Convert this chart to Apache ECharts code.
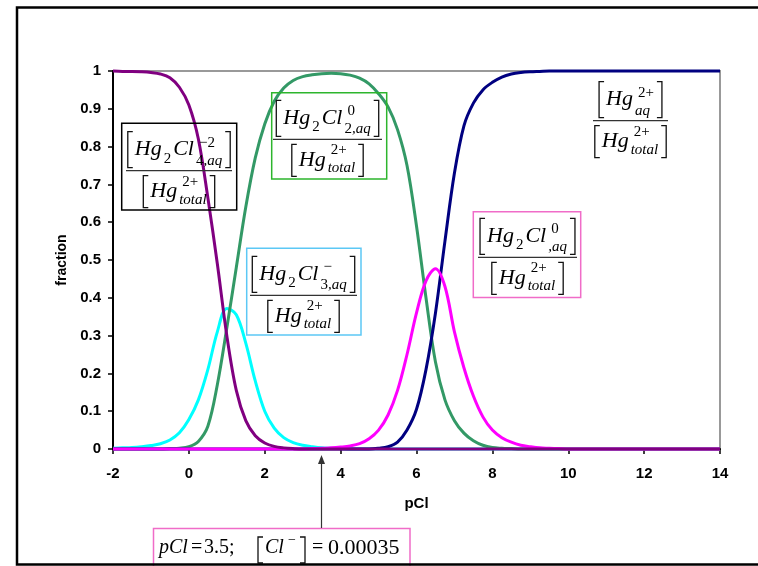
<!DOCTYPE html>
<html>
<head>
<meta charset="utf-8">
<title>Hg2 chloride speciation</title>
<script src="https://cdn.jsdelivr.net/npm/echarts@6/dist/echarts.min.js"></script>
<style>
  html, body { margin: 0; padding: 0; background: #fff; }
  #main { width: 758px; height: 566px; }
</style>
</head>
<body>
<div id="main"></div>
<script>
// pCl grid, 0.25 steps from -2 to 10, then flat to 14
var pCl = [-2, -1.75, -1.5, -1.25, -1, -0.75, -0.5, -0.25, 0, 0.25, 0.5, 0.75, 1, 1.25, 1.5, 1.75,
  2, 2.25, 2.5, 2.75, 3, 3.25, 3.5, 3.75, 4, 4.25, 4.5, 4.75, 5, 5.25, 5.5, 5.75,
  6, 6.25, 6.5, 6.75, 7, 7.25, 7.5, 7.75, 8, 8.25, 8.5, 8.75, 9, 9.25, 9.5, 9.75, 10, 14];

var hg2cl4 = [1, 0.999, 0.999, 0.998, 0.996, 0.992, 0.982, 0.957, 0.91, 0.82, 0.665, 0.49, 0.3, 0.155, 0.075, 0.035,
  0.016, 0.007, 0.003, 0.001, 0, 0, 0, 0, 0, 0, 0, 0, 0, 0, 0, 0,
  0, 0, 0, 0, 0, 0, 0, 0, 0, 0, 0, 0, 0, 0, 0, 0, 0, 0];
var hg2cl3 = [0.002, 0.003, 0.004, 0.006, 0.009, 0.014, 0.024, 0.043, 0.078, 0.13, 0.21, 0.31, 0.372, 0.355, 0.28, 0.18,
  0.1, 0.055, 0.03, 0.017, 0.01, 0.006, 0.003, 0.002, 0.001, 0, 0, 0, 0, 0, 0, 0,
  0, 0, 0, 0, 0, 0, 0, 0, 0, 0, 0, 0, 0, 0, 0, 0, 0, 0];
var hg2cl2 = [0, 0, 0, 0, 0, 0, 0.001, 0.002, 0.006, 0.02, 0.06, 0.17, 0.32, 0.48, 0.64, 0.77,
  0.86, 0.92, 0.955, 0.975, 0.985, 0.99, 0.993, 0.994, 0.993, 0.989, 0.981, 0.966, 0.94, 0.905, 0.845, 0.75,
  0.59, 0.4, 0.23, 0.13, 0.075, 0.042, 0.022, 0.01, 0.004, 0.002, 0.001, 0, 0, 0, 0, 0, 0, 0];
var hg2cl = [0, 0, 0, 0, 0, 0, 0, 0, 0, 0, 0, 0, 0, 0, 0, 0,
  0, 0, 0, 0, 0, 0.001, 0.002, 0.003, 0.005, 0.008, 0.014, 0.027, 0.05, 0.09, 0.155, 0.25,
  0.36, 0.445, 0.477, 0.43, 0.31, 0.215, 0.14, 0.085, 0.05, 0.03, 0.018, 0.01, 0.006, 0.003, 0.002, 0.001, 0, 0];
var hgAq = [0, 0, 0, 0, 0, 0, 0, 0, 0, 0, 0, 0, 0, 0, 0, 0,
  0, 0, 0, 0, 0, 0, 0, 0, 0, 0, 0, 0, 0.002, 0.006, 0.018, 0.05,
  0.105, 0.21, 0.36, 0.55, 0.73, 0.855, 0.915, 0.95, 0.97, 0.984, 0.992, 0.996, 0.998, 0.999, 1, 1, 1, 1];

var yTicks = [0, 0.1, 0.2, 0.3, 0.4, 0.5, 0.6, 0.7, 0.8, 0.9, 1];

;
(function() {
  var SANS = '"Liberation Sans", Arial, sans-serif';
  var SERIF = '"Liberation Serif", "Times New Roman", serif';
  var BASE = 22, SMALL = 15;
  var measure = document.createElement('canvas').getContext('2d');

  function fnt(size, italic) {
    return (italic ? 'italic ' : '') + size + 'px ' + SERIF;
  }
  function textWidth(text, size, italic) {
    measure.font = fnt(size, italic);
    return measure.measureText(text).width;
  }
  function pair(ys) {
    return pCl.map(function(x, i) { return [x, ys[i]]; });
  }

  var graphics = [];

  function txt(text, x, y, size, italic) {
    graphics.push({
      type: 'text', x: x, y: y, z: 20, silent: true,
      style: {
        text: text, font: fnt(size, italic), fill: '#000',
        textAlign: 'left', textVerticalAlign: 'middle', align: 'left', verticalAlign: 'middle'
      }
    });
    return x + textWidth(text, size, italic);
  }
  function pieces(pcs, x, y) {
    pcs.forEach(function(p) { x = txt(p[0], x, y, SMALL, p[1]); });
    return x;
  }
  function piecesWidth(pcs) {
    var w = 0;
    pcs.forEach(function(p) { w += textWidth(p[0], SMALL, p[1]); });
    return w;
  }
  function tokenWidth(tk) {
    if (tk.b) return textWidth(tk.b, BASE, true) + 2;
    if (tk.s) return piecesWidth(tk.s) + 2;
    return Math.max(piecesWidth(tk.sup) + 3, piecesWidth(tk.sub)) + 1;
  }
  function bracket(x, top, bottom, dir) {
    var x2 = x + 5 * dir;
    graphics.push({
      type: 'polyline', z: 20, silent: true,
      shape: { points: [[x2, top], [x, top], [x, bottom], [x2, bottom]] },
      style: { stroke: '#111', lineWidth: 1.3, fill: null }
    });
  }

  // one bracketed row: [ Hg2Cl^a_b ]
  function row(tokens, cx, baseY, top, bottom, den) {
    var inner = 0;
    tokens.forEach(function(t) { inner += tokenWidth(t); });
    var x = cx - (inner + 14) / 2;
    bracket(x, top, bottom, 1);
    x += 7;
    tokens.forEach(function(tk) {
      if (tk.b) {
        txt(tk.b, x, baseY - 7.5, BASE, true);
      } else if (tk.s) {
        pieces(tk.s, x, baseY + 2);
      } else {
        pieces(tk.sup, x + 3, den ? baseY - 17 : baseY - 14);
        pieces(tk.sub, x, den ? baseY + 1 : baseY + 4);
      }
      x += tokenWidth(tk);
    });
    bracket(x + 2 + 5, top, bottom, -1);
  }

  var hgTotal = [{ b: 'Hg' }, { sup: [['2+', 0]], sub: [['total', 1]] }];
  var labels = [
    { cx: 179, ly: 170.7, box: [121.7, 123.3, 236.7, 210], color: '#000', line: [126, 232],
      num: [{ b: 'Hg' }, { s: [['2', 0]] }, { b: 'Cl' }, { sup: [['\u22122', 0]], sub: [['4', 0], [',aq', 1]] }] },
    { cx: 327.5, ly: 139.3, box: [271.7, 92.7, 386.7, 179], color: '#2db52d', line: [273, 382],
      num: [{ b: 'Hg' }, { s: [['2', 0]] }, { b: 'Cl' }, { sup: [['0', 0]], sub: [['2', 0], [',aq', 1]] }] },
    { cx: 303.5, ly: 295.3, box: [246.7, 248.3, 361, 335], color: '#5cc8f5', line: [250, 357],
      num: [{ b: 'Hg' }, { s: [['2', 0]] }, { b: 'Cl' }, { sup: [['\u2212', 0]], sub: [['3', 0], [',aq', 1]] }] },
    { cx: 527.5, ly: 257.3, box: [473.3, 211.7, 580.7, 297.5], color: '#f06cc8', line: [478, 577],
      num: [{ b: 'Hg' }, { s: [['2', 0]] }, { b: 'Cl' }, { sup: [['0', 0]], sub: [[',aq', 1]] }] },
    { cx: 630.5, ly: 120.7, box: null, color: null, line: [593, 668],
      num: [{ b: 'Hg' }, { sup: [['2+', 0]], sub: [['aq', 1]] }] }
  ];

  labels.forEach(function(lb) {
    if (lb.box) {
      graphics.push({
        type: 'rect', z: 20, silent: true,
        shape: { x: lb.box[0], y: lb.box[1], width: lb.box[2] - lb.box[0], height: lb.box[3] - lb.box[1] },
        style: { fill: null, stroke: lb.color, lineWidth: 1.5 }
      });
    }
    graphics.push({
      type: 'line', z: 20, silent: true,
      shape: { x1: lb.line[0], y1: lb.ly, x2: lb.line[1], y2: lb.ly },
      style: { stroke: '#333', lineWidth: 1.2 }
    });
    row(lb.num, lb.cx, lb.ly - 14, lb.ly - 39, lb.ly - 3, false);
    row(hgTotal, lb.cx, lb.ly + 28, lb.ly + 5, lb.ly + 37, true);
  });

  // pCl = 3.5 note with arrow
  graphics.push({
    type: 'rect', z: 20, silent: true,
    shape: { x: 153.5, y: 528.5, width: 256.5, height: 45 },
    style: { fill: null, stroke: '#f06cc8', lineWidth: 1.5 }
  });
  graphics.push({
    type: 'line', z: 20, silent: true,
    shape: { x1: 321.5, y1: 528, x2: 321.5, y2: 462 },
    style: { stroke: '#333', lineWidth: 1.2 }
  });
  graphics.push({
    type: 'polygon', z: 20, silent: true,
    shape: { points: [[321.5, 455], [318, 464], [325, 464]] },
    style: { fill: '#333' }
  });
  txt('pCl', 159, 548, 20, true);
  txt('=', 191, 548, 20, false);
  txt('3.5;', 204, 548, 20, false);
  bracket(258, 537, 563, 1);
  txt('Cl', 265, 548, 20, true);
  txt('\u2212', 288, 540, 14, false);
  bracket(305, 537, 563, -1);
  txt('=', 312, 548, 20, false);
  txt('0.00035', 328, 548, 22, false);

  // outer frame
  graphics.push({
    type: 'rect', z: 30, silent: true,
    shape: { x: 17, y: 7.5, width: 760, height: 557 },
    style: { fill: null, stroke: '#000', lineWidth: 2.5 }
  });

  var axisFont = { color: '#000', fontWeight: 'bold', fontSize: 15, fontFamily: SANS };

  var option = {
    animation: false,
    backgroundColor: '#fff',
    grid: {
      left: 113, right: 38, top: 71, bottom: 117,
      show: true, borderColor: '#999', borderWidth: 2
    },
    xAxis: {
      type: 'value', min: -2, max: 14, interval: 2,
      name: 'pCl', nameLocation: 'middle', nameGap: 47,
      nameTextStyle: { color: '#000', fontWeight: 'bold', fontSize: 15, fontFamily: SANS },
      axisLine: { onZero: false, lineStyle: { color: '#000', width: 2 } },
      axisTick: { length: 5, lineStyle: { color: '#000', width: 1.5 } },
      axisLabel: Object.assign({ margin: 17 }, axisFont),
      splitLine: { show: false }
    },
    yAxis: {
      type: 'value', min: 0, max: 1, interval: 0.1,
      name: 'fraction', nameLocation: 'middle', nameGap: 44, nameRotate: 90,
      nameTextStyle: { color: '#000', fontWeight: 'bold', fontSize: 14, fontFamily: SANS },
      axisLine: { show: true, onZero: false, lineStyle: { color: '#000', width: 2 } },
      axisTick: { show: true, length: 5, lineStyle: { color: '#000', width: 1.5 } },
      axisLabel: Object.assign({
        margin: 12,
        formatter: function(v) {
          var hit = yTicks.filter(function(t) { return Math.abs(t - v) < 1e-6; });
          return hit.length ? String(hit[0]) : '';
        }
      }, axisFont),
      splitLine: { show: false }
    },
    series: [
      { name: 'Hg2Cl3-', data: pair(hg2cl3), color: '#00ffff' },
      { name: 'Hg2Cl2', data: pair(hg2cl2), color: '#339966' },
      { name: 'Hg2+', data: pair(hgAq), color: '#000080' },
      { name: 'Hg2Cl+', data: pair(hg2cl), color: '#ff00ff' },
      { name: 'Hg2Cl4 2-', data: pair(hg2cl4), color: '#800080' }
    ].map(function(s) {
      return {
        name: s.name, type: 'line', data: s.data, smooth: 0.35, showSymbol: false,
        lineStyle: { color: s.color, width: 3 }, itemStyle: { color: s.color },
        clip: false
      };
    }),
    graphic: graphics
  };

  var myChart = echarts.init(document.getElementById('main'));
  myChart.setOption(option);
})();
</script>
</body>
</html>
